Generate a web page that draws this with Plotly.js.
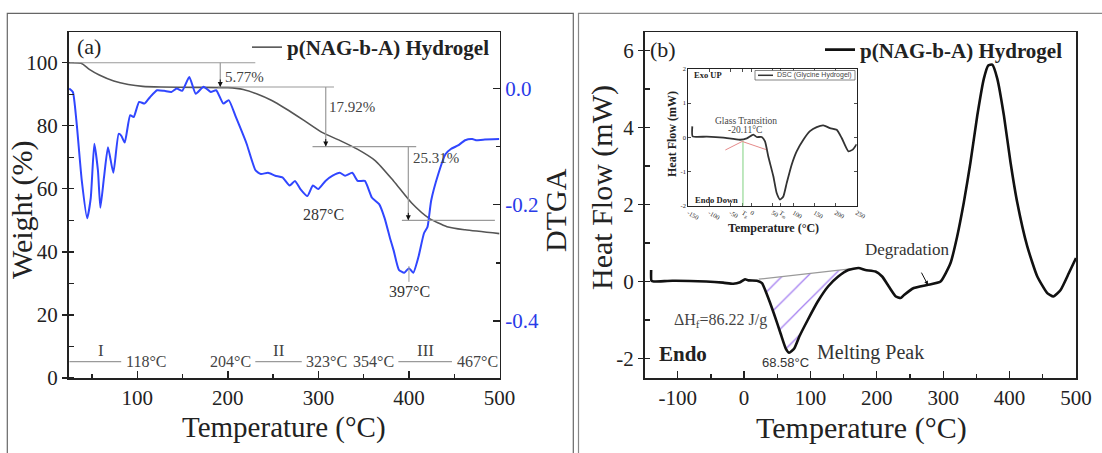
<!DOCTYPE html>
<html><head><meta charset="utf-8">
<script src="https://cdn.plot.ly/plotly-3.0.1.min.js"></script>
<style>html,body{margin:0;padding:0;background:#fff}</style>
</head><body><div id="chart" style="width:1102px;height:453px"></div>
<script>
// ---------- data (a): TGA / DTGA ----------
const tgaT = [24, 38, 47, 58, 74, 90, 106, 126, 165, 200, 217, 233, 248, 264, 284, 304, 324, 343, 363, 383, 403, 422, 442, 462, 500];
const tgaW = [100, 99.8, 97.9, 96.1, 94.2, 93.1, 92.5, 92.3, 92.2, 92.1, 91.5, 90, 88.1, 85.4, 81.7, 77.9, 75.3, 72.6, 68.9, 62.5, 55.5, 50.7, 48, 47, 45.8];
const dtgT = [24.8, 28.8, 32.7, 38.7, 44.6, 48.6, 52.5, 56.5, 59.2, 63.2, 67.6, 73.5, 79.4, 82.2, 86.1, 92.1, 96, 102, 107.9, 113.9, 121.8, 129.7, 137.6, 143.5, 149.5, 157.4, 164.5, 173.2, 181.1, 187.1, 195, 200.9, 208.8, 220.7, 230.6, 236.5, 244.4, 252.3, 260.3, 268.2, 274.1, 280.1, 287.9, 293.9, 299.8, 307.8, 315.7, 323.6, 329.5, 337.4, 343.4, 351.3, 359.2, 367.1, 373.1, 379, 383, 388.9, 394.8, 400, 404.7, 410.6, 416.6, 420.5, 424.5, 432.4, 440.3, 446.3, 454.2, 462.1, 470, 474, 481.9, 499.7];
const dtgD = [0.000, -0.006, -0.055, -0.159, -0.223, -0.188, -0.095, -0.141, -0.205, -0.153, -0.101, -0.145, -0.078, -0.081, -0.093, -0.046, -0.049, -0.023, -0.026, -0.015, -0.003, -0.004, -0.006, 0.000, -0.004, 0.020, -0.009, 0.003, -0.006, -0.003, -0.026, -0.020, -0.049, -0.095, -0.141, -0.147, -0.145, -0.150, -0.153, -0.167, -0.159, -0.173, -0.185, -0.167, -0.173, -0.159, -0.150, -0.145, -0.150, -0.145, -0.159, -0.159, -0.188, -0.199, -0.223, -0.257, -0.278, -0.312, -0.317, -0.309, -0.317, -0.289, -0.249, -0.238, -0.193, -0.147, -0.113, -0.104, -0.098, -0.089, -0.087, -0.089, -0.088, -0.087];
const stepLevels = [100, 92.3, 73.4, 50.0];
const stepArrowT = [191.6, 308.1, 399.3];
const stepPct = ['5.77%', '17.92%', '25.31%'];
const stageNames = ['I', 'II', 'III'];
const stageStartT = [25, 230.3, 388.3];
const stageEndT = [82.2, 281.6, 447.5];
const stageLeftLbl = ['', '204°C', '354°C'];
const stageRightLbl = ['118°C', '323°C', '467°C'];
const dtgPeakLbl = ['287°C', '397°C'];
const wTickVals = [0, 20, 40, 60, 80, 100];
const dtgTickVals = [-0.4, -0.2, 0.0];
const dtgTickText = ['-0.4', '-0.2', '0.0'];
const tA_TickVals = [100, 200, 300, 400, 500];

// ---------- data (b): DSC ----------
const dscT = [-140, -139.5, -136, -108, -57, -31.6, -16.3, -6, 1.5, 6.6, 19.4, 27, 34.7, 44.9, 55, 62.8, 67.9, 75.5, 83.2, 95.9, 111, 126.5, 141.8, 157, 172.4, 182.7, 198, 208, 218, 228.6, 235.7, 241, 255.7, 275.9, 296, 311, 321, 331, 341, 351.3, 361.2, 367.8, 373.8, 381.4, 391.4, 401.4, 411.5, 426.6, 441.7, 456.7, 465.8, 476.8, 489.3, 500];
const dscHF = [0.30, 0.02, 0.0, 0.02, 0.0, -0.03, -0.06, -0.02, 0.06, 0.03, 0.02, -0.04, -0.35, -0.83, -1.35, -1.74, -1.85, -1.74, -1.43, -1.0, -0.52, -0.13, 0.13, 0.30, 0.35, 0.30, 0.26, 0.13, -0.13, -0.39, -0.43, -0.35, -0.17, -0.09, 0.0, 0.48, 1.17, 2.05, 3.09, 4.31, 5.27, 5.61, 5.63, 5.27, 4.31, 3.09, 2.05, 0.91, 0.13, -0.30, -0.39, -0.22, 0.22, 0.61];
const baseT = [22, 160];
const baseHF = [0.06, 0.33];
const bTickVals = [-100, 0, 100, 200, 300, 400, 500];
const bTickText = ['-100', '0', '100', '200', '300', '400', '500'];
const hfTickVals = [-2, 0, 2, 4, 6];
const hfTickText = ['-2', '0', '2', '4', '6'];

// ---------- data (b) inset ----------
const insT = [-140.5, -139.7, -106, -66.8, -27, -11, 4.5, 12.4, 24.3, 32.2, 40, 52, 59.9, 67.8, 75.7, 83.7, 95.5, 107.4, 123.3, 139, 155, 170.8, 186.6, 202.5, 214.4, 230.2, 240.5, 250];
const insHF = [0.32, 0.03, 0.02, -0.01, -0.07, -0.03, 0.08, 0.01, 0.01, -0.12, -0.56, -1.14, -1.63, -1.82, -1.73, -1.34, -0.8, -0.41, -0.07, 0.18, 0.3, 0.35, 0.27, 0.22, -0.02, -0.41, -0.36, -0.2];
const insTg = -20.11, insTm = 68.58;
const insTickVals = [-150, -100, -50, insTg, 0, 50, insTm, 100, 150, 200, 250];
const insTickText = ['-150', '-100', '-50', 'T<sub>g</sub>', '0', '50', 'T<sub>m</sub>', '100', '150', '200', '250'];
const insYTickVals = [-2, -1, 0, 1, 2];
const insYTickText = ['-2', '-1', '0', '1', '2'];

// ---------- helpers ----------
const W = 1102, H = 453;
const px = x => x / W, py = y => 1 - y / H;
const serif = 'Liberation Serif, Times New Roman, serif';
const sans = 'Liberation Sans, Arial, sans-serif';
const ink = '#222';

// hatch polygon (melting area between baseline and curve)
const hatchX = [baseT[0]], hatchY = [baseHF[0]];
dscT.forEach((t, i) => { if (t > baseT[0] && t < baseT[1]) { hatchX.push(t); hatchY.push(dscHF[i]); } });
hatchX.push(baseT[1]); hatchY.push(baseHF[1]);

const traces = [
  {x: tgaT, y: tgaW, xaxis: 'x', yaxis: 'y', mode: 'lines', name: 'p(NAG-b-A) Hydrogel', legend: 'legend',
   line: {color: '#555', width: 1.6, shape: 'spline', smoothing: 0.6}},
  {x: dtgT, y: dtgD, xaxis: 'x', yaxis: 'y2', mode: 'lines', showlegend: false,
   line: {color: '#3046ff', width: 2, shape: 'spline', smoothing: 0.5}},
  {x: hatchX, y: hatchY, xaxis: 'x2', yaxis: 'y3', mode: 'lines', fill: 'toself', showlegend: false,
   line: {width: 0, color: 'rgba(0,0,0,0)', shape: 'spline', smoothing: 0.5}, fillcolor: 'rgba(0,0,0,0)',
   fillpattern: {shape: '/', fgcolor: '#a27cf0', size: 18, solidity: 0.07}},
  {x: baseT, y: baseHF, xaxis: 'x2', yaxis: 'y3', mode: 'lines', showlegend: false,
   line: {color: '#9a9a9a', width: 1.2}},
  {x: dscT, y: dscHF, xaxis: 'x2', yaxis: 'y3', mode: 'lines', name: 'p(NAG-b-A) Hydrogel', legend: 'legend2',
   line: {color: '#111', width: 2.6, shape: 'spline', smoothing: 0.5}},
  {x: insT, y: insHF, xaxis: 'x3', yaxis: 'y4', mode: 'lines', showlegend: false,
   line: {color: '#333', width: 1.8, shape: 'spline', smoothing: 0.5}}
];

const axBase = {showgrid: false, zeroline: false, showline: true, linecolor: ink, linewidth: 1.5,
  ticks: 'inside', ticklen: 7, tickwidth: 1.3, tickcolor: ink,
  tickfont: {family: serif, size: 21, color: ink}};

const shapes = [];
const annotations = [];
const gray = '#9a9a9a';
function txt(o) { return Object.assign({showarrow: false, xanchor: 'center', yanchor: 'middle'}, o); }
// outer frames
shapes.push({type: 'rect', xref: 'paper', yref: 'paper', x0: px(7.3), x1: px(573.3), y0: py(470), y1: py(13.3), line: {color: '#666', width: 1.2}});
shapes.push({type: 'rect', xref: 'paper', yref: 'paper', x0: px(578.5), x1: px(1130), y0: py(470), y1: py(13.3), line: {color: '#888', width: 1.2}});

// (a) step guides
const hStart = [25, 188.8, 293.5, 392.2], hEnd = [230.3, 317.2, 408, 494.9];
stepLevels.forEach((lv, i) => {
  shapes.push({type: 'line', xref: 'x', yref: 'y', x0: hStart[i], x1: hEnd[i], y0: lv, y1: lv, line: {color: gray, width: 1.2}});
});
stepArrowT.forEach((t, i) => {
  shapes.push({type: 'line', xref: 'x', yref: 'y', x0: t, x1: t, y0: stepLevels[i], y1: stepLevels[i + 1], line: {color: gray, width: 1.2}});
  annotations.push({xref: 'x', yref: 'y', x: t, y: stepLevels[i + 1], ax: 0, ay: -9, text: '', showarrow: true,
    arrowhead: 2, arrowsize: 1, arrowwidth: 1, arrowcolor: '#111', standoff: 0});
});
const pctPos = [[194.8, 95.5], [309.3, 85.9], [402.1, 69.9]];
stepPct.forEach((s, i) => annotations.push(txt({xref: 'x', yref: 'y', x: pctPos[i][0], y: pctPos[i][1], text: s,
  xanchor: 'left', font: {family: serif, size: 15, color: '#444'}})));
// stages
stageNames.forEach((n, i) => {
  shapes.push({type: 'line', xref: 'x', yref: 'y', x0: stageStartT[i], x1: stageEndT[i], y0: 5.2, y1: 5.2, line: {color: gray, width: 1.2}});
  annotations.push(txt({xref: 'x', yref: 'y', x: (stageStartT[i] + stageEndT[i]) / 2 + (i === 0 ? 6 : 0), y: 8.8, text: n,
    font: {family: serif, size: 17, color: '#444'}}));
  if (stageLeftLbl[i]) annotations.push(txt({xref: 'x', yref: 'y', x: stageStartT[i] - 3, y: 5.2, text: stageLeftLbl[i],
    xanchor: 'right', font: {family: serif, size: 16, color: '#444'}}));
  annotations.push(txt({xref: 'x', yref: 'y', x: stageEndT[i] + 3, y: 5.2, text: stageRightLbl[i],
    xanchor: 'left', font: {family: serif, size: 16, color: '#444'}}));
});
annotations.push(txt({xref: 'x', yref: 'y', x: 305.3, y: 52, text: dtgPeakLbl[0], font: {family: serif, size: 16, color: '#333'}}));
annotations.push(txt({xref: 'x', yref: 'y', x: 400.9, y: 27.5, text: dtgPeakLbl[1], font: {family: serif, size: 16, color: '#333'}}));
shapes.push({type: 'line', xref: 'x', yref: 'y', x0: 400, x1: 400, y0: 30.5, y1: 35.5, line: {color: gray, width: 1}});
annotations.push(txt({xref: 'x', yref: 'y', x: 31, y: 105.2, text: '(a)', xanchor: 'left', font: {family: serif, size: 22, color: ink}}));

// axis titles (a)
annotations.push(txt({xref: 'paper', yref: 'paper', x: px(22), y: py(210), text: 'Weight (%)', textangle: -90, font: {family: serif, size: 30, color: ink}}));
annotations.push(txt({xref: 'paper', yref: 'paper', x: px(284), y: py(427), text: 'Temperature (°C)', font: {family: serif, size: 29, color: ink}}));
annotations.push(txt({xref: 'paper', yref: 'paper', x: px(556), y: py(210), text: 'DTGA', textangle: -90, font: {family: serif, size: 30, color: ink}}));
// axis titles (b)
annotations.push(txt({xref: 'paper', yref: 'paper', x: px(602), y: py(188), text: 'Heat Flow (mW)', textangle: -90, font: {family: serif, size: 30, color: ink}}));
annotations.push(txt({xref: 'paper', yref: 'paper', x: px(861), y: py(428), text: 'Temperature (°C)', font: {family: serif, size: 30, color: ink}}));
annotations.push(txt({xref: 'paper', yref: 'paper', x: px(648), y: py(49), xanchor: 'left', text: '(b)', font: {family: serif, size: 22, color: ink}}));

// (b) texts
annotations.push(txt({xref: 'x2', yref: 'y3', x: 246, y: 0.83, text: 'Degradation', font: {family: serif, size: 17, color: '#333'}}));
annotations.push({xref: 'x2', yref: 'y3', x: 277, y: -0.09, axref: 'x2', ayref: 'y3', ax: 266, ay: 0.27, text: '', showarrow: true,
  arrowhead: 2, arrowsize: 0.8, arrowwidth: 1, arrowcolor: '#111', standoff: 0});
annotations.push(txt({xref: 'x2', yref: 'y3', x: -35.7, y: -1.0, text: 'ΔH<sub>f</sub>=86.22 J/g', font: {family: serif, size: 16, color: '#444'}}));
annotations.push(txt({xref: 'x2', yref: 'y3', x: -131, y: -1.87, xanchor: 'left', text: '<b>Endo</b>', font: {family: serif, size: 21, color: ink}}));
annotations.push(txt({xref: 'x2', yref: 'y3', x: 63, y: -2.11, text: '68.58°C', font: {family: sans, size: 13, color: '#333'}}));
annotations.push(txt({xref: 'x2', yref: 'y3', x: 191, y: -1.85, text: 'Melting Peak', font: {family: serif, size: 20, color: '#333'}}));

// inset extras
shapes.push({type: 'line', xref: 'x3', yref: 'y4', x0: insTg, x1: insTg, y0: -0.1, y1: -2, line: {color: '#7fd07f', width: 1}});
shapes.push({type: 'path', xref: 'x3', yref: 'y4', path: 'M-62,-0.37 L-22,-0.12 L35,-0.36', line: {color: '#e58a8a', width: 1}});
annotations.push(txt({xref: 'x3', yref: 'y4', x: -142, y: 1.83, xanchor: 'left', text: '<b>Exo UP</b>', font: {family: serif, size: 8.5, color: ink}}));
annotations.push(txt({xref: 'x3', yref: 'y4', x: -138, y: -1.84, xanchor: 'left', text: '<b>Endo Down</b>', font: {family: serif, size: 8.5, color: ink}}));
annotations.push(txt({xref: 'x3', yref: 'y4', x: -13, y: 0.47, text: 'Glass Transition', font: {family: serif, size: 9.5, color: '#444'}}));
annotations.push(txt({xref: 'x3', yref: 'y4', x: -15, y: 0.22, text: '-20.11°C', font: {family: serif, size: 9.5, color: '#444'}}));
annotations.push(txt({xref: 'paper', yref: 'paper', x: px(672), y: py(134), text: '<b>Heat Flow (mW)</b>', textangle: -90, font: {family: serif, size: 12, color: ink}}));
annotations.push(txt({xref: 'paper', yref: 'paper', x: px(773), y: py(228), text: '<b>Temperature (°C)</b>', font: {family: serif, size: 12, color: ink}}));
// inset legend box
shapes.push({type: 'rect', xref: 'paper', yref: 'paper', x0: px(755), x1: px(855), y0: py(80), y1: py(70.5), line: {color: '#666', width: 0.8}, fillcolor: '#fff'});
shapes.push({type: 'line', xref: 'paper', yref: 'paper', x0: px(758), x1: px(773), y0: py(75.3), y1: py(75.3), line: {color: '#333', width: 1.5}});
annotations.push(txt({xref: 'paper', yref: 'paper', x: px(775), y: py(75.3), xanchor: 'left', text: 'DSC (Glycine Hydrogel)', font: {family: sans, size: 7, color: '#444'}}));

const layout = {
  width: W, height: H, margin: {l: 0, r: 0, t: 0, b: 0}, paper_bgcolor: '#fff', plot_bgcolor: 'rgba(0,0,0,0)',
  showlegend: true,
  legend: {x: px(247), y: py(47.5), xanchor: 'left', yanchor: 'middle', bgcolor: 'rgba(0,0,0,0)',
    font: {family: serif, size: 21, color: ink, weight: 'bold'}},
  legend2: {x: px(820), y: py(50), xanchor: 'left', yanchor: 'middle', bgcolor: 'rgba(0,0,0,0)',
    font: {family: serif, size: 21, color: ink, weight: 'bold'}},
  xaxis: Object.assign({}, axBase, {domain: [px(68.5), px(499.5)], range: [24, 500], anchor: 'y', mirror: true,
    tickmode: 'array', tickvals: tA_TickVals,
    minor: {tickmode: 'linear', tick0: 0, dtick: 50, ticks: 'inside', ticklen: 4, tickcolor: ink}}),
  yaxis: Object.assign({}, axBase, {domain: [py(378), py(32)], range: [0, 109.75], anchor: 'x',
    tickmode: 'array', tickvals: wTickVals, ticks: 'outside', ticklen: 5,
    minor: {tickmode: 'linear', tick0: 0, dtick: 10, ticks: 'inside', ticklen: 5, tickcolor: ink}}),
  yaxis2: Object.assign({}, axBase, {overlaying: 'y', side: 'right', anchor: 'x', range: [-0.498, 0.0972],
    tickmode: 'array', tickvals: dtgTickVals, ticktext: dtgTickText,
    tickfont: {family: serif, size: 21, color: '#2a3be8'},
    minor: {tickmode: 'linear', tick0: 0, dtick: 0.1, ticks: 'inside', ticklen: 4, tickcolor: ink}}),
  xaxis2: Object.assign({}, axBase, {domain: [px(644.5), px(1076)], range: [-150, 500], anchor: 'y3', mirror: true,
    tickmode: 'array', tickvals: bTickVals, ticktext: bTickText,
    minor: {tickmode: 'linear', tick0: 0, dtick: 50, ticks: 'inside', ticklen: 4, tickcolor: ink}}),
  yaxis3: Object.assign({}, axBase, {domain: [py(378), py(32)], range: [-2.506, 6.48], anchor: 'x2', mirror: true,
    tickmode: 'array', tickvals: hfTickVals, ticktext: hfTickText, ticks: 'outside', ticklen: 5,
    minor: {tickmode: 'linear', tick0: 0, dtick: 1, ticks: 'inside', ticklen: 5, tickcolor: ink}}),
  xaxis3: Object.assign({}, axBase, {domain: [px(688.3), px(856.7)], range: [-150, 250], anchor: 'y4', mirror: 'ticks',
    linewidth: 1, ticklen: 3, tickwidth: 0.8, tickmode: 'array', tickvals: insTickVals, ticktext: insTickText,
    tickfont: {family: serif, size: 6.5, color: ink}}),
  yaxis4: Object.assign({}, axBase, {domain: [py(205.7), py(69)], range: [-2, 2], anchor: 'x3', mirror: 'ticks',
    linewidth: 1, ticklen: 3, tickwidth: 0.8, tickmode: 'array', tickvals: insYTickVals, ticktext: insYTickText,
    tickfont: {family: serif, size: 6.5, color: ink}}),
  shapes: shapes,
  annotations: annotations
};

Plotly.newPlot('chart', traces, layout, {displayModeBar: false, staticPlot: true});
</script></body></html>
